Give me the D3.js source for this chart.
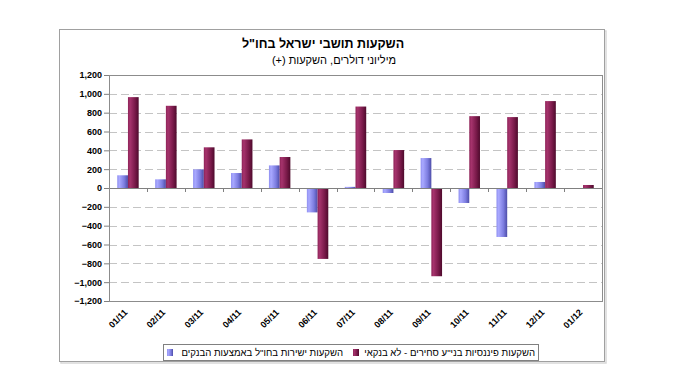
<!DOCTYPE html>
<html>
<head>
<meta charset="utf-8">
<script src="https://cdn.jsdelivr.net/npm/d3@7"></script>
<style>
  body { margin: 0; background: #fff; }
  text { font-family: Arial, "Liberation Sans", sans-serif; }
</style>
</head>
<body>
<div id="chart"></div>
<script>
// chart values (millions of dollars)
const months = ["01/11", "02/11", "03/11", "04/11", "05/11", "06/11", "07/11",
                "08/11", "09/11", "10/11", "11/11", "12/11", "01/12"];
const directViaBanks = [135, 92, 198, 159, 240, -259, 12, -53, 318, -159, -520, 64, 0];
const nonBankSecurities = [965, 873, 432, 516, 329, -753, 865, 403, -937, 763, 753, 923, 32];
const seriesNames = ["השקעות ישירות בחו\"ל באמצעות הבנקים", "השקעות פיננסיות בני\"ע סחירים - לא בנקאי"];
const yTicks = [-1200, -1000, -800, -600, -400, -200, 0, 200, 400, 600, 800, 1000, 1200];

const W = 673, H = 380;
const margin = {top: 75, right: 71, bottom: 79, left: 109};
const width = W - margin.left - margin.right;
const height = H - margin.top - margin.bottom;

const svg = d3.select("#chart").append("svg")
    .attr("width", W)
    .attr("height", H);

// gradients for the bevelled bars
const defs = svg.append("defs");
function grad(id, stops) {
    let g = defs.append("linearGradient").attr("id", id)
        .attr("x1", "0%").attr("x2", "100%").attr("y1", "0%").attr("y2", "0%");
    stops.forEach(s => g.append("stop").attr("offset", s[0]).attr("stop-color", s[1]));
}
grad("gBlue", [["0%", "#8f8ff0"], ["20%", "#a9a9ff"], ["65%", "#7d7de0"], ["100%", "#4d4da8"]]);
grad("gRed", [["0%", "#8e2358"], ["20%", "#a5336c"], ["65%", "#7a1a4a"], ["100%", "#4e0a2c"]]);

// outer frame with a soft shadow
svg.append("rect").attr("x", 61).attr("y", 31).attr("width", 545).attr("height", 332)
    .attr("fill", "none").attr("stroke", "#d8d8d8").attr("stroke-width", 1.5);
svg.append("rect").attr("x", 59.5).attr("y", 29.5).attr("width", 545).attr("height", 332)
    .attr("fill", "#fff").attr("stroke", "#a0a0a0");

// titles
svg.append("text")
    .attr("x", 323).attr("y", 48)
    .attr("text-anchor", "middle")
    .attr("font-size", "12.5px").attr("font-weight", "bold")
    .attr("direction", "rtl")
    .text("השקעות תושבי ישראל בחו\"ל");
svg.append("text")
    .attr("x", 334).attr("y", 64)
    .attr("text-anchor", "middle")
    .attr("font-size", "11px")
    .attr("direction", "rtl")
    .text("מיליוני דולרים, השקעות (+)");

const g = svg.append("g").attr("transform", `translate(${margin.left},${margin.top})`);

// scales
const x0 = d3.scaleBand().domain(months).range([0, width]).padding(0);
const x1 = d3.scaleBand().domain([0, 1]).range([0, x0.bandwidth()]).paddingInner(0).paddingOuter(0.77);
const y = d3.scaleLinear().domain([-1200, 1200]).range([height, 0]);

// dashed grid
g.selectAll(".grid").data(yTicks.filter(t => t !== 0 && Math.abs(t) !== 1200))
    .enter().append("line")
    .attr("x1", 0).attr("x2", width)
    .attr("y1", d => Math.round(y(d)) + 0.5).attr("y2", d => Math.round(y(d)) + 0.5)
    .attr("stroke", "#c4c4c4").attr("stroke-width", 1.2)
    .attr("stroke-dasharray", "8,4");

// y axis
const yAxis = d3.axisLeft(y).tickValues(yTicks).tickSize(5).tickPadding(2)
    .tickFormat(d3.format(",d"));
const ya = g.append("g").call(yAxis);
ya.select(".domain").remove();
ya.selectAll(".tick line").attr("stroke", "#808080");
ya.selectAll(".tick text").attr("font-size", "9px").attr("font-weight", "bold")
    .attr("fill", "#000").attr("font-family", "Arial, 'Liberation Sans', sans-serif");

// bars
const rows = months.map((m, i) => ({m: m, v: [directViaBanks[i], nonBankSecurities[i]]}));
const grp = g.selectAll(".grp").data(rows).enter().append("g")
    .attr("transform", d => `translate(${x0(d.m)},0)`);
grp.selectAll("rect").data(d => d.v.map((v, k) => ({k: k, v: v})))
    .enter().append("rect")
    .attr("x", d => x1(d.k))
    .attr("width", x1.bandwidth())
    .attr("y", d => y(Math.max(0, d.v)))
    .attr("height", d => Math.abs(y(d.v) - y(0)))
    .attr("fill", d => d.k === 0 ? "url(#gBlue)" : "url(#gRed)");

// category axis on zero line
const xAxis = d3.axisBottom(x0).tickSize(0).tickFormat("");
const xa = g.append("g").attr("transform", `translate(0,${y(0)})`).call(xAxis);
xa.select(".domain").attr("stroke", "#808080");
g.selectAll(".ctick").data(months.slice(1)).enter().append("line")
    .attr("x1", d => Math.round(x0(d)) + 0.5).attr("x2", d => Math.round(x0(d)) + 0.5)
    .attr("y1", y(0)).attr("y2", y(0) + 4)
    .attr("stroke", "#808080");

// plot area border
g.append("rect").attr("x", 0.5).attr("y", 0.5).attr("width", width).attr("height", height)
    .attr("fill", "none").attr("stroke", "#8c8c8c");

// month labels below the plot
g.selectAll(".mlab").data(months).enter().append("text")
    .attr("transform", d => `translate(${x0(d) + x0.bandwidth() / 2},${height + 12}) rotate(-45)`)
    .attr("text-anchor", "end")
    .attr("font-size", "9px").attr("font-weight", "bold")
    .text(d => d);

// legend
const leg = svg.append("g");
leg.append("rect").attr("x", 163.5).attr("y", 344.5).attr("width", 375).attr("height", 16)
    .attr("fill", "#fff").attr("stroke", "#808080");
const legItems = [
    {sw: 167, tx: 343, fill: "url(#gBlue)", name: seriesNames[0]},
    {sw: 353, tx: 535, fill: "url(#gRed)", name: seriesNames[1]}
];
legItems.forEach(it => {
    leg.append("rect").attr("x", it.sw).attr("y", 349).attr("width", 6).attr("height", 7)
        .attr("fill", it.fill);
    leg.append("text").attr("x", it.tx).attr("y", 356)
        .attr("text-anchor", "start").attr("direction", "rtl")
        .attr("font-size", "9.6px")
        .text(it.name);
});
</script>
</body>
</html>
